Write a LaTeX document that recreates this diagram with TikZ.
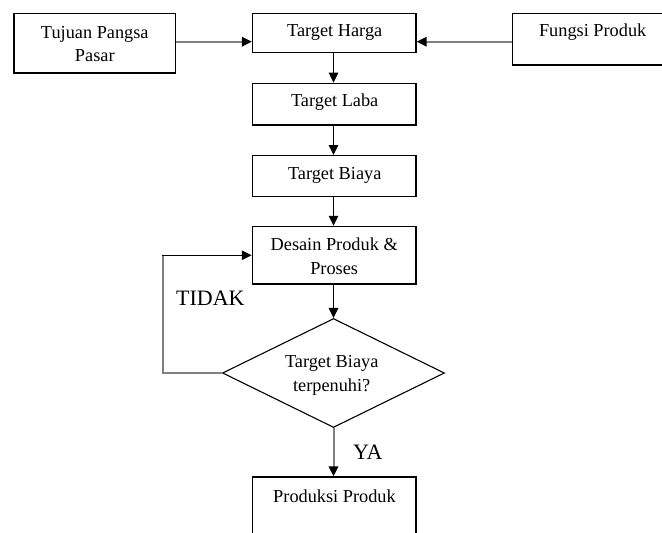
\documentclass[tikz,border=0pt]{standalone}
\usepackage{fontspec}
\setmainfont{Liberation Serif}
\usetikzlibrary{arrows.meta,shapes.geometric}
\begin{document}
\begin{tikzpicture}[x=1pt,y=-1pt,
  boxnode/.style={draw=black,line width=1.4pt,rectangle,inner sep=0pt},
  lbl/.style={anchor=base,inner sep=0pt,font=\fontsize{18.3}{22}\selectfont},
  biglbl/.style={anchor=base west,inner sep=0pt,font=\fontsize{22}{26}\selectfont},
  blackarrow/.style={draw=black,line width=1.4pt,-{Triangle[length=10pt,width=9.5pt,color=black]}},
  grayarrow/.style={draw=black!50,line width=2pt,-{Triangle[length=10pt,width=9.5pt,color=black]}},
  grayline/.style={draw=black!50,line width=2pt}]
\useasboundingbox (0,0) rectangle (662,533);
% boxes
\node[boxnode,minimum width=161.7pt,minimum height=59.7pt] (tujuan) at (94.85,43.15) {};
\node[boxnode,minimum width=163.5pt,minimum height=39pt] (harga) at (334.25,32.8) {};
\node[boxnode,minimum width=160pt,minimum height=51.7pt] (fungsi) at (592.7,39.15) {};
\node[boxnode,minimum width=163.5pt,minimum height=41.7pt] (laba) at (334.25,104.15) {};
\node[boxnode,minimum width=163.5pt,minimum height=41pt] (biaya) at (334.25,176.2) {};
\node[boxnode,minimum width=163.5pt,minimum height=57.5pt] (desain) at (334.25,255.25) {};
\node[draw=black,line width=1.1pt,shape=diamond,inner sep=0pt,shape aspect=2.04,
      minimum width=222pt,minimum height=109pt] (dia) at (333.5,373) {};
\node[boxnode,minimum width=163.5pt,minimum height=90pt] (produksi) at (334.25,522) {};
% texts
\node[lbl] (t1a) at (94.8,38) {Tujuan Pangsa};
\node[lbl] (t1b) at (94.8,61.5) {Pasar};
\node[lbl] (t2) at (334.7,36) {Target Harga};
\node[lbl] (t3) at (592.7,36) {Fungsi Produk};
\node[lbl] (t4) at (334.7,106) {Target Laba};
\node[lbl] (t5) at (334.7,179) {Target Biaya};
\node[lbl] (t6a) at (334.2,250) {Desain Produk \&};
\node[lbl] (t6b) at (334.2,274) {Proses};
\node[lbl] (t7a) at (331.7,367.5) {Target Biaya};
\node[lbl] (t7b) at (331.7,391.5) {terpenuhi?};
\node[lbl] (t8) at (334.5,502) {Produksi Produk};
\node[biglbl] (tidak) at (176,305.7) {TIDAK};
\node[biglbl] (ya) at (353,459) {YA};
% helper coordinates
\coordinate (hy) at (0,41.7);
\coordinate (lx) at (163.3,0);
% connectors
\draw[grayarrow] (tujuan.east |- hy) -- (harga.west |- hy);
\draw[grayarrow] (fungsi.west |- hy) -- (harga.east |- hy);
\draw[blackarrow] (harga.south -| dia.north) -- (laba.north -| dia.north);
\draw[blackarrow] (laba.south -| dia.north) -- (biaya.north -| dia.north);
\draw[blackarrow] (biaya.south -| dia.north) -- (desain.north -| dia.north);
\draw[blackarrow] (desain.south -| dia.north) -- (dia.north);
\draw[grayarrow] (dia.south) -- (dia.south |- produksi.north);
\draw[grayline] (dia.west) -- (dia.west -| lx) -- (desain.west -| lx);
\draw[blackarrow] ([xshift=-0.9pt]desain.west -| lx) -- (desain.west);
\end{tikzpicture}
\end{document}
